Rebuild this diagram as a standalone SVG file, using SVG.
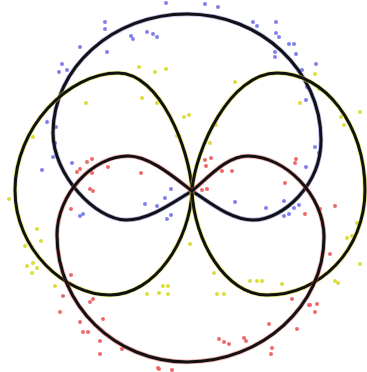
<svg xmlns="http://www.w3.org/2000/svg" width="367" height="372" viewBox="0 0 367 372">
<style>
.halo{fill:none;stroke-width:4.6;stroke-linejoin:round}
.line{fill:none;stroke:#111;stroke-width:3;stroke-linejoin:round}
.b{fill:#7f80ec}
.y{fill:#dcdc3a}
.r{fill:#ec6a6a}
</style>
<defs>
<path id="pBlue" d="M192 191 C175 201 150 220 126 220 C96 220 53 175 53 133 C53 68 113 14 187 14 C261 14 321 71 321 140 C321 185 283 220 253 220 C230 220 208 201 192 191 Z"/>
<path id="pRed" d="M192 191 C175 178 150 156 128 156 C92 156 57 195 57 235 C57 305 115 362 187 362 C262 362 324 306 324 237 C324 195 285 156 248 156 C226 156 208 178 192 191 Z"/>
<path id="pYL" d="M192 191 C190 150 160 73 118 73 C68 73 15 128 15 190 C15 250 65 295 110 295 C155 295 190 240 192 191 Z"/>
<path id="pYR" d="M192 191 C195 150 230 73 277 73 C325 73 365 125 365 190 C365 250 320 295 267 295 C225 295 194 240 192 191 Z"/>
</defs>
<rect width="367" height="372" fill="#fff"/>
<g id="dots-blue">
<circle class="b" cx="166" cy="3" r="2"/><circle class="b" cx="105" cy="22" r="2"/><circle class="b" cx="105" cy="29" r="2"/><circle class="b" cx="131" cy="36" r="2"/><circle class="b" cx="133" cy="39" r="2"/><circle class="b" cx="147" cy="32" r="2"/><circle class="b" cx="153" cy="34" r="2"/><circle class="b" cx="157" cy="37" r="2"/><circle class="b" cx="107" cy="52" r="2"/><circle class="b" cx="80" cy="47" r="2"/><circle class="b" cx="62" cy="64" r="2"/><circle class="b" cx="59" cy="72" r="2"/><circle class="b" cx="67" cy="70" r="2"/><circle class="b" cx="47" cy="122" r="2"/><circle class="b" cx="56" cy="127" r="2"/><circle class="b" cx="55" cy="143" r="2"/><circle class="b" cx="42" cy="170" r="2"/><circle class="b" cx="53" cy="157" r="2"/><circle class="b" cx="72" cy="163" r="2"/>
<circle class="b" cx="205" cy="4" r="2"/><circle class="b" cx="218" cy="7" r="2"/><circle class="b" cx="253" cy="22" r="2"/><circle class="b" cx="257" cy="26" r="2"/><circle class="b" cx="276" cy="22" r="2"/><circle class="b" cx="276" cy="33" r="2"/><circle class="b" cx="279" cy="37" r="2"/><circle class="b" cx="289" cy="44" r="2"/><circle class="b" cx="294" cy="44" r="2"/><circle class="b" cx="275" cy="52" r="2"/><circle class="b" cx="275" cy="57" r="2"/><circle class="b" cx="296" cy="54" r="2"/><circle class="b" cx="316" cy="64" r="2"/><circle class="b" cx="302" cy="70" r="2"/><circle class="b" cx="307" cy="87" r="2"/><circle class="b" cx="306" cy="100" r="2"/><circle class="b" cx="315" cy="147" r="2"/><circle class="b" cx="306" cy="167" r="2"/><circle class="b" cx="319" cy="153" r="2"/>
<circle class="b" cx="80" cy="216" r="2"/><circle class="b" cx="83" cy="214" r="2"/><circle class="b" cx="145" cy="204" r="2"/><circle class="b" cx="157" cy="206" r="2"/><circle class="b" cx="165" cy="198" r="2"/><circle class="b" cx="171" cy="189" r="2"/><circle class="b" cx="167" cy="219" r="2"/><circle class="b" cx="171" cy="215" r="2"/>
<circle class="b" cx="235" cy="202" r="2"/><circle class="b" cx="266" cy="208" r="2"/><circle class="b" cx="284" cy="216" r="2"/><circle class="b" cx="289" cy="214" r="2"/><circle class="b" cx="294" cy="208" r="2"/><circle class="b" cx="299" cy="205" r="2"/><circle class="b" cx="284" cy="201" r="2"/>
</g>
<g id="dots-yellow">
<circle class="y" cx="86" cy="103" r="2"/><circle class="y" cx="142" cy="98" r="2"/><circle class="y" cx="139" cy="67" r="2"/><circle class="y" cx="155" cy="72" r="2"/><circle class="y" cx="166" cy="69" r="2"/><circle class="y" cx="157" cy="103" r="2"/><circle class="y" cx="177" cy="136" r="2"/><circle class="y" cx="33" cy="137" r="2"/>
<circle class="y" cx="235" cy="82" r="2"/><circle class="y" cx="216" cy="125" r="2"/><circle class="y" cx="210" cy="143" r="2"/><circle class="y" cx="300" cy="103" r="2"/><circle class="y" cx="315" cy="74" r="2"/><circle class="y" cx="319" cy="89" r="2"/><circle class="y" cx="341" cy="117" r="2"/><circle class="y" cx="344" cy="125" r="2"/><circle class="y" cx="360" cy="112" r="2"/><circle class="y" cx="184" cy="117" r="2"/><circle class="y" cx="189" cy="115" r="2"/>
<circle class="y" cx="9" cy="199" r="2"/><circle class="y" cx="37" cy="229" r="2"/><circle class="y" cx="25" cy="246" r="2"/><circle class="y" cx="27" cy="266" r="2"/><circle class="y" cx="33" cy="263" r="2"/><circle class="y" cx="32" cy="273" r="2"/><circle class="y" cx="37" cy="268" r="2"/><circle class="y" cx="55" cy="286" r="2"/><circle class="y" cx="163" cy="286" r="2"/><circle class="y" cx="159" cy="293" r="2"/><circle class="y" cx="168" cy="286" r="2"/><circle class="y" cx="168" cy="294" r="2"/><circle class="y" cx="147" cy="294" r="2"/><circle class="y" cx="41" cy="241" r="2"/>
<circle class="y" cx="214" cy="273" r="2"/><circle class="y" cx="217" cy="294" r="2"/><circle class="y" cx="224" cy="294" r="2"/><circle class="y" cx="250" cy="281" r="2"/><circle class="y" cx="257" cy="281" r="2"/><circle class="y" cx="262" cy="281" r="2"/><circle class="y" cx="282" cy="284" r="2"/><circle class="y" cx="335" cy="281" r="2"/><circle class="y" cx="338" cy="283" r="2"/><circle class="y" cx="347" cy="238" r="2"/><circle class="y" cx="352" cy="236" r="2"/><circle class="y" cx="360" cy="264" r="2"/><circle class="y" cx="357" cy="223" r="2"/><circle class="y" cx="190" cy="244" r="2"/>
</g>
<g id="dots-red">
<circle class="r" cx="92" cy="159" r="2"/><circle class="r" cx="87" cy="162" r="2"/><circle class="r" cx="80" cy="169" r="2"/><circle class="r" cx="77" cy="172" r="2"/><circle class="r" cx="108" cy="167" r="2"/><circle class="r" cx="141" cy="173" r="2"/><circle class="r" cx="92" cy="173" r="2"/>
<circle class="r" cx="205" cy="160" r="2"/><circle class="r" cx="211" cy="158" r="2"/><circle class="r" cx="206" cy="166" r="2"/><circle class="r" cx="222" cy="171" r="2"/><circle class="r" cx="232" cy="171" r="2"/><circle class="r" cx="296" cy="159" r="2"/><circle class="r" cx="295" cy="163" r="2"/><circle class="r" cx="285" cy="183" r="2"/>
<circle class="r" cx="90" cy="189" r="2"/><circle class="r" cx="93" cy="191" r="2"/><circle class="r" cx="71" cy="209" r="2"/><circle class="r" cx="60" cy="312" r="2"/><circle class="r" cx="63" cy="296" r="2"/><circle class="r" cx="80" cy="322" r="2"/><circle class="r" cx="83" cy="332" r="2"/><circle class="r" cx="88" cy="332" r="2"/><circle class="r" cx="90" cy="302" r="2"/><circle class="r" cx="93" cy="299" r="2"/><circle class="r" cx="100" cy="341" r="2"/><circle class="r" cx="100" cy="354" r="2"/><circle class="r" cx="103" cy="319" r="2"/><circle class="r" cx="122" cy="349" r="2"/><circle class="r" cx="159" cy="369" r="2"/><circle class="r" cx="71" cy="275" r="2"/><circle class="r" cx="158" cy="368" r="2"/><circle class="r" cx="172" cy="370" r="2"/>
<circle class="r" cx="202" cy="190" r="2"/><circle class="r" cx="207" cy="189" r="2"/><circle class="r" cx="335" cy="206" r="2"/><circle class="r" cx="305" cy="214" r="2"/><circle class="r" cx="320" cy="209" r="2"/><circle class="r" cx="330" cy="254" r="2"/><circle class="r" cx="317" cy="304" r="2"/><circle class="r" cx="315" cy="312" r="2"/><circle class="r" cx="309" cy="305" r="2"/><circle class="r" cx="297" cy="329" r="2"/><circle class="r" cx="269" cy="324" r="2"/><circle class="r" cx="272" cy="348" r="2"/><circle class="r" cx="271" cy="354" r="2"/><circle class="r" cx="219" cy="339" r="2"/><circle class="r" cx="224" cy="342" r="2"/><circle class="r" cx="229" cy="344" r="2"/><circle class="r" cx="244" cy="338" r="2"/><circle class="r" cx="246" cy="341" r="2"/><circle class="r" cx="292" cy="299" r="2"/><circle class="r" cx="310" cy="305" r="2"/>
</g>
<g id="curve-blue">
<use href="#pBlue" class="halo" stroke="#6a6ad8" stroke-opacity="0.5"/>
<use href="#pBlue" class="line"/>
</g>
<g id="curve-yellow-left">
<use href="#pYL" class="halo" stroke="#d8d830" stroke-opacity="0.6"/>
<use href="#pYL" class="line"/>
</g>
<g id="curve-yellow-right">
<use href="#pYR" class="halo" stroke="#d8d830" stroke-opacity="0.6"/>
<use href="#pYR" class="line"/>
</g>
<g id="curve-red">
<use href="#pRed" class="halo" stroke="#e05050" stroke-opacity="0.5"/>
<use href="#pRed" class="line"/>
</g>
</svg>
